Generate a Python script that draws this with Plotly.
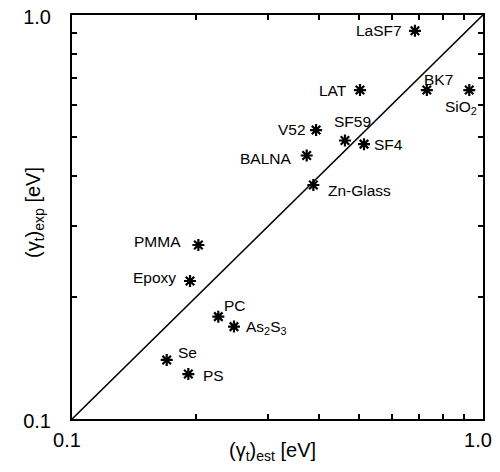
import math
import plotly.graph_objects as go

# ---- data ----
materials = ["LaSF7", "LAT", "BK7", "SiO<sub>2</sub>", "V52", "SF59", "SF4", "BALNA",
             "Zn-Glass", "PMMA", "Epoxy", "PC", "As<sub>2</sub>S<sub>3</sub>", "Se", "PS"]
gamma_est = [0.683, 0.502, 0.730, 0.926, 0.3925, 0.4615, 0.5135, 0.3724,
             0.3866, 0.203, 0.1937, 0.227, 0.2478, 0.170, 0.1919]
gamma_exp = [0.914, 0.652, 0.652, 0.652, 0.519, 0.489, 0.479, 0.449,
             0.3795, 0.2696, 0.2196, 0.1792, 0.1693, 0.140, 0.1292]
diag = [0.1, 1.0]
tick_vals = [0.1, 0.2, 0.3, 0.4, 0.5, 0.6, 0.7, 0.8, 0.9, 1.0]
tick_text = ["0.1", "", "", "", "", "", "", "", "", "1.0"]
x_title = "(γ<sub>t</sub>)<sub>est</sub> [eV]"
y_title = "(γ<sub>t</sub>)<sub>exp</sub> [eV]"

# label placement (anchor, xshift, yshift) -- styling only
label_pos = [("right", -11, 0), ("right", -11, 0), ("left", -5, 11), ("center", -8, -17),
             ("right", -8, 1), ("center", 8, 19), ("left", 8, 0), ("right", -14, -3),
             ("left", 13, -5), ("right", -15, 3), ("right", -12, 3), ("left", 4, 11),
             ("left", 10, -1), ("left", 9, 7), ("left", 13, -1)]

FONT = "Liberation Sans, Arial, Helvetica, sans-serif"

fig = go.Figure()
fig.add_trace(go.Scatter(x=diag, y=diag, mode="lines",
                         line=dict(color="black", width=1.6), hoverinfo="skip"))
fig.add_trace(go.Scatter(x=gamma_est, y=gamma_exp, mode="markers",
                         marker=dict(symbol="asterisk-open", size=10, color="black",
                                     line=dict(color="black", width=2.2))))

for name, xv, yv, (anc, dx, dy) in zip(materials, gamma_est, gamma_exp, label_pos):
    fig.add_annotation(x=math.log10(xv), y=math.log10(yv), xref="x", yref="y",
                       text=name, showarrow=False, xanchor=anc, yanchor="middle",
                       xshift=dx, yshift=dy,
                       font=dict(family=FONT, size=15.5, color="black"))

# axis titles
fig.add_annotation(x=0.489, y=0, xref="paper", yref="paper", text=x_title,
                   showarrow=False, xanchor="center", yanchor="middle", yshift=-32,
                   font=dict(family=FONT, size=20, color="black"))
fig.add_annotation(x=0, y=0.51, xref="paper", yref="paper", text=y_title,
                   showarrow=False, xanchor="center", yanchor="middle", xshift=-37,
                   textangle=-90, font=dict(family=FONT, size=20, color="black"))

axis_common = dict(type="log", range=[-1, 0], tickmode="array", tickvals=tick_vals,
                   ticktext=tick_text, ticks="inside", ticklen=5, tickwidth=1.5,
                   tickcolor="black", showline=True, linecolor="black", linewidth=2,
                   mirror="allticks", showgrid=False, zeroline=False, automargin=False,
                   ticklabeloverflow="allow",
                   tickfont=dict(family=FONT, size=20, color="black"))

# figure is offset by the page's 8px body margin; size/margins compensate
fig.update_layout(
    width=492, height=464,
    margin=dict(l=64, r=17, t=7, b=53),
    paper_bgcolor="white", plot_bgcolor="white",
    showlegend=False,
    xaxis=dict(**axis_common, ticklabelstandoff=2, ticklabelshift=-5),
    yaxis=dict(**axis_common, ticklabelstandoff=15, ticklabelshift=2),
)

fig.write_html("out.html")
